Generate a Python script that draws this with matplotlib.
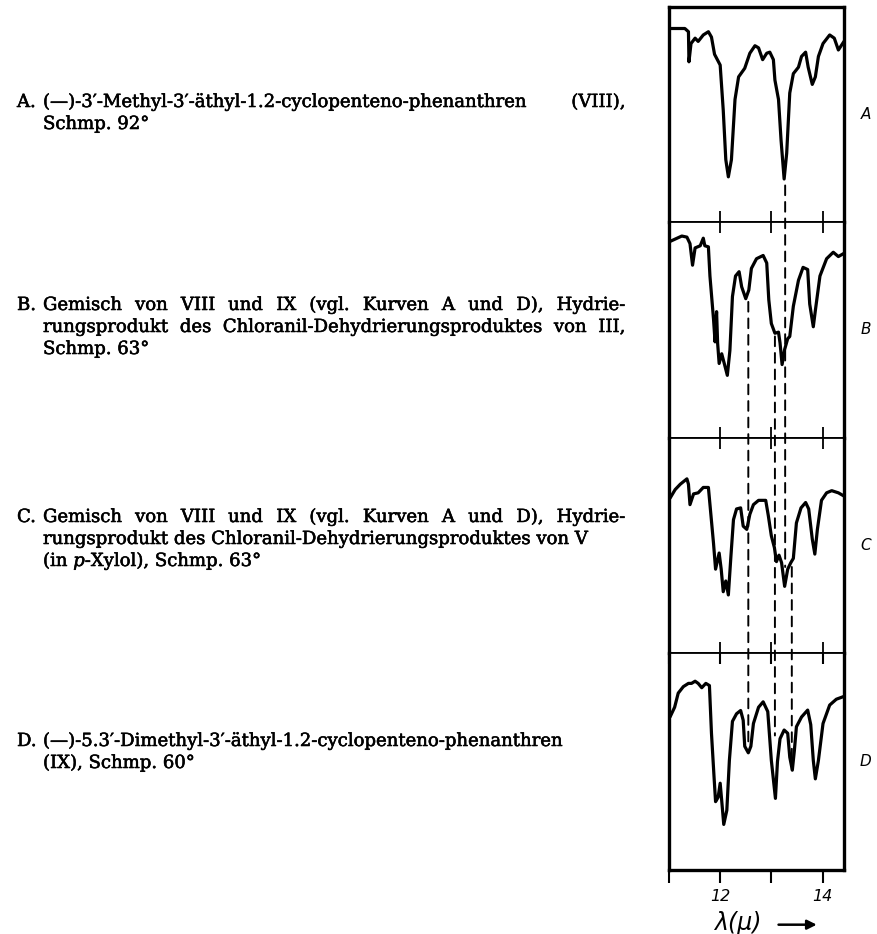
import matplotlib
matplotlib.use("Agg")
import matplotlib.pyplot as plt
import matplotlib.patheffects as pe
from matplotlib.patches import ConnectionPatch

# wavelength (micron) and relative transmission (0 = panel bottom, 1 = panel top)
A_x = [11.02, 11.31, 11.38, 11.39, 11.43, 11.51, 11.57, 11.67, 11.77, 11.83, 11.89, 12.00, 12.06, 12.11, 12.16,
       12.22, 12.29, 12.36, 12.48, 12.58, 12.68, 12.75, 12.83, 12.91, 12.97, 13.04, 13.07, 13.14, 13.19, 13.25,
       13.30, 13.36, 13.43, 13.53, 13.59, 13.67, 13.72, 13.80, 13.86, 13.92, 14.01, 14.14, 14.23, 14.31, 14.42]
A_y = [0.90, 0.90, 0.885, 0.745, 0.83, 0.855, 0.84, 0.87, 0.885, 0.86, 0.78, 0.73, 0.52, 0.29, 0.21,
       0.29, 0.57, 0.675, 0.715, 0.785, 0.82, 0.81, 0.755, 0.785, 0.79, 0.755, 0.66, 0.57, 0.38, 0.20,
       0.32, 0.60, 0.69, 0.72, 0.77, 0.79, 0.72, 0.64, 0.675, 0.77, 0.83, 0.87, 0.855, 0.80, 0.84]

B_x = [11.02, 11.25, 11.35, 11.41, 11.46, 11.51, 11.61, 11.67, 11.70, 11.77, 11.80, 11.87, 11.90, 11.93, 11.95,
       11.98, 12.03, 12.08, 12.14, 12.19, 12.24, 12.30, 12.37, 12.42, 12.50, 12.56, 12.61, 12.71, 12.84, 12.91,
       12.95, 13.00, 13.07, 13.14, 13.17, 13.21, 13.26, 13.32, 13.36, 13.43, 13.53, 13.62, 13.71, 13.75, 13.82,
       13.86, 13.95, 14.08, 14.21, 14.31, 14.42]
B_y = [0.91, 0.935, 0.93, 0.90, 0.80, 0.88, 0.89, 0.925, 0.89, 0.885, 0.75, 0.55, 0.445, 0.585, 0.44,
       0.345, 0.39, 0.345, 0.29, 0.405, 0.655, 0.75, 0.77, 0.70, 0.645, 0.685, 0.785, 0.83, 0.845, 0.81,
       0.64, 0.53, 0.485, 0.49, 0.44, 0.34, 0.41, 0.46, 0.47, 0.61, 0.73, 0.79, 0.78, 0.62, 0.515,
       0.59, 0.75, 0.83, 0.86, 0.84, 0.855]

C_x = [11.02, 11.12, 11.22, 11.35, 11.38, 11.41, 11.48, 11.57, 11.67, 11.77, 11.82, 11.87, 11.91, 11.98, 12.02,
       12.06, 12.11, 12.16, 12.21, 12.26, 12.32, 12.40, 12.45, 12.52, 12.58, 12.65, 12.75, 12.89, 12.94, 13.00,
       13.06, 13.10, 13.15, 13.20, 13.26, 13.32, 13.38, 13.43, 13.49, 13.58, 13.67, 13.73, 13.80, 13.85, 13.90,
       13.98, 14.08, 14.18, 14.31, 14.42]
C_y = [0.72, 0.76, 0.785, 0.81, 0.785, 0.69, 0.74, 0.745, 0.77, 0.77, 0.64, 0.51, 0.39, 0.465, 0.39,
       0.285, 0.335, 0.27, 0.45, 0.62, 0.67, 0.675, 0.59, 0.575, 0.645, 0.69, 0.71, 0.71, 0.64, 0.545,
       0.49, 0.425, 0.455, 0.42, 0.31, 0.39, 0.42, 0.44, 0.605, 0.675, 0.70, 0.67, 0.53, 0.46, 0.575,
       0.71, 0.745, 0.755, 0.745, 0.73]

D_x = [11.02, 11.11, 11.18, 11.28, 11.38, 11.44, 11.51, 11.57, 11.64, 11.72, 11.79, 11.83, 11.88, 11.91, 11.96,
       12.00, 12.03, 12.07, 12.13, 12.18, 12.24, 12.32, 12.40, 12.45, 12.48, 12.55, 12.60, 12.65, 12.75, 12.84,
       12.93, 13.00, 13.08, 13.12, 13.17, 13.25, 13.32, 13.36, 13.41, 13.45, 13.49, 13.59, 13.71, 13.77, 13.82,
       13.86, 13.92, 14.01, 14.14, 14.27, 14.42]
D_y = [0.705, 0.75, 0.815, 0.845, 0.86, 0.86, 0.87, 0.86, 0.84, 0.86, 0.85, 0.63, 0.43, 0.315, 0.335,
       0.40, 0.32, 0.21, 0.275, 0.505, 0.685, 0.72, 0.735, 0.69, 0.57, 0.54, 0.57, 0.675, 0.75, 0.775,
       0.73, 0.505, 0.33, 0.50, 0.605, 0.645, 0.63, 0.52, 0.46, 0.55, 0.66, 0.705, 0.737, 0.67, 0.505,
       0.42, 0.505, 0.675, 0.76, 0.787, 0.80]

panel_names = ['A', 'B', 'C', 'D']
tick_pos = [11, 12, 13, 14]
tick_labels = ['', '12', '', '14']

# dashed guide lines: (x top, panel top, y top, x bottom, panel bottom, y bottom)
guides = [
    (13.27, 0, 0.17, 13.27, 2, 0.40),
    (13.40, 2, 0.40, 13.40, 3, 0.46),
    (13.07, 1, 0.47, 13.07, 3, 0.62),
    (12.55, 1, 0.63, 12.55, 3, 0.57),
]

captions = [
    ('A.', ['(—)-3′-Methyl-3′-äthyl-1.2-cyclopenteno-phenanthren (VIII),', 'Schmp. 92°'], [True, False]),
    ('B.', ['Gemisch von VIII und IX (vgl. Kurven A und D), Hydrie-',
            'rungsprodukt des Chloranil-Dehydrierungsproduktes von III,', 'Schmp. 63°'], [True, True, False]),
    ('C.', ['Gemisch von VIII und IX (vgl. Kurven A und D), Hydrie-',
            'rungsprodukt des Chloranil-Dehydrierungsproduktes von V',
            '(in $\\mathit{p}$-Xylol), Schmp. 63°'], [True, False, False]),
    ('D.', ['(—)-5.3′-Dimethyl-3′-äthyl-1.2-cyclopenteno-phenanthren', '(IX), Schmp. 60°'], [False, False]),
]
caption_top = [107, 310, 522, 746]   # baseline of first line, px from top

W, H = 877, 934
plt.rcParams['mathtext.fontset'] = 'dejavuserif'
fig = plt.figure(figsize=(W / 100, H / 100), dpi=100)

left, right = 669, 844
edges = [7, 222, 438, 653, 870]
series = [(A_x, A_y), (B_x, B_y), (C_x, C_y), (D_x, D_y)]
axes = []
for i, (xs, ys) in enumerate(series):
    top, bot = edges[i], edges[i + 1]
    ax = fig.add_axes([left / W, 1 - bot / H, (right - left) / W, (bot - top) / H])
    ax.plot(xs, ys, color='k', lw=2.3, solid_joinstyle='round', solid_capstyle='round')
    ax.set_xlim(11.0, 14.42)
    ax.set_ylim(0, 1)
    ax.set_yticks([])
    ax.set_xticks(tick_pos)
    for s in ['left', 'right']:
        ax.spines[s].set_linewidth(2.4)
    ax.spines['top'].set_linewidth(2.4 if i == 0 else 1.3)
    ax.spines['bottom'].set_linewidth(2.4 if i == 3 else 1.3)
    if i < 3:
        ax.tick_params(axis='x', direction='in', length=8, width=1.3, top=(i > 0), bottom=True, labelbottom=False)
    else:
        ax.tick_params(axis='x', direction='out', length=9, width=1.5, top=True, bottom=True, pad=5)
        ax.set_xticklabels(tick_labels, fontsize=11.5, style='italic')
        # top ticks of the last panel point inward
        for t in ax.xaxis.get_major_ticks():
            t.tick2line.set_marker(3)
            t.tick2line.set_markersize(8)
    ax.text(1.125, 0.5, panel_names[i], transform=ax.transAxes, fontsize=11,
            style='italic', ha='center', va='center')
    axes.append(ax)

axD = axes[3]
axD.text(0.26, -0.245, 'λ(μ)', transform=axD.transAxes, fontsize=17, style='italic',
         ha='left', va='center')
axD.annotate('', xy=(0.86, -0.252), xytext=(0.61, -0.252), xycoords='axes fraction',
             textcoords='axes fraction',
             arrowprops=dict(arrowstyle='-|>', lw=1.8, color='k', mutation_scale=14))

for x1, p1, y1, x2, p2, y2 in guides:
    con = ConnectionPatch(xyA=(x1, y1), coordsA=axes[p1].transData,
                          xyB=(x2, y2), coordsB=axes[p2].transData,
                          color='k', lw=1.4, linestyle=(0, (5, 3.5)))
    fig.add_artist(con)

# caption text on the left
renderer = fig.canvas.get_renderer()
txt_kw = dict(family='DejaVu Serif', fontsize=13, va='baseline',
              path_effects=[pe.withStroke(linewidth=0.4, foreground='k')])
label_x, body_x, body_right = 17, 43, 625
line_step = 22


def put_line(x_px, y_px, text, justify):
    y = 1 - y_px / H
    if not justify:
        fig.text(x_px / W, y, text, **txt_kw)
        return
    words = text.split(' ')
    objs = [fig.text(0, y, w, **txt_kw) for w in words]
    widths = [o.get_window_extent(renderer).width for o in objs]
    gap = (body_right - x_px - sum(widths)) / (len(words) - 1)
    x = x_px
    for o, w in zip(objs, widths):
        o.set_x(x / W)
        x += w + gap


for (lab, lines, just), y0 in zip(captions, caption_top):
    put_line(label_x, y0, lab, False)
    for k, (line, j) in enumerate(zip(lines, just)):
        put_line(body_x, y0 + k * line_step, line, j)

fig.savefig('out.png', dpi=100)
